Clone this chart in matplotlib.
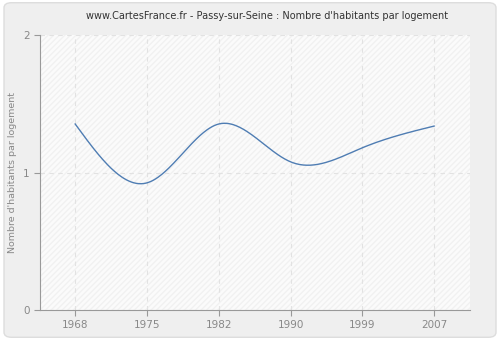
import numpy as np
import matplotlib
matplotlib.use("Agg")
from matplotlib import pyplot as plt
from matplotlib.patches import FancyBboxPatch

years = ["1968", "1975", "1982", "1990", "1999", "2007"]
values = [1.353, 0.925, 1.353, 1.078, 1.18, 1.338]
y_ticks = [0, 1, 2]


def natural_spline(xs, ys, n=300):
    # natural cubic spline through the points
    xs = np.asarray(xs, float)
    ys = np.asarray(ys, float)
    k = len(xs)
    h = np.diff(xs)
    a = np.zeros((k, k))
    b = np.zeros(k)
    a[0, 0] = a[-1, -1] = 1
    for i in range(1, k - 1):
        a[i, i - 1] = h[i - 1]
        a[i, i] = 2 * (h[i - 1] + h[i])
        a[i, i + 1] = h[i]
        b[i] = 6 * ((ys[i + 1] - ys[i]) / h[i] - (ys[i] - ys[i - 1]) / h[i - 1])
    m = np.linalg.solve(a, b)
    xx = np.linspace(xs[0], xs[-1], n)
    idx = np.clip(np.searchsorted(xs, xx) - 1, 0, k - 2)
    x0, x1 = xs[idx], xs[idx + 1]
    hh = x1 - x0
    t0, t1 = x1 - xx, xx - x0
    yy = (m[idx] * t0 ** 3 + m[idx + 1] * t1 ** 3) / (6 * hh) \
        + (ys[idx] / hh - m[idx] * hh / 6) * t0 \
        + (ys[idx + 1] / hh - m[idx + 1] * hh / 6) * t1
    return xx, yy


fig = plt.figure(figsize=(5, 3.4), dpi=100)
fig.patch.set_facecolor("white")
fig.patches.append(FancyBboxPatch((0.008, 0.008), 0.984, 0.984,
                                  boxstyle="round,pad=0,rounding_size=0.015",
                                  transform=fig.transFigure, facecolor="#efefef",
                                  edgecolor="#dddddd", linewidth=1, zorder=-5))

ax = fig.add_axes([0.08, 0.088, 0.86, 0.809])
ax.set_facecolor("#fbfbfb")
ax.add_patch(plt.Rectangle((0, 0), 1, 1, transform=ax.transAxes, facecolor="none",
                           edgecolor="#f1f1f1", hatch="//////", linewidth=0, zorder=0))

x = np.arange(len(years))
xx, yy = natural_spline(x, values)
ax.plot(xx, yy, color="#4f7db3", linewidth=1, zorder=3)

ax.set_xlim(-0.49, 5.5)
ax.set_ylim(0, 2)
ax.set_xticks(x)
ax.set_xticklabels(years)
ax.set_yticks(y_ticks)
ax.grid(True, color="#e2e2e2", linestyle=(0, (4, 4)), linewidth=0.8)
ax.set_axisbelow(True)

for s in ["top", "right"]:
    ax.spines[s].set_visible(False)
for s in ["left", "bottom"]:
    ax.spines[s].set_color("#999999")
ax.tick_params(colors="#999999", labelcolor="#888888", labelsize=7.5, length=4, width=0.8)
ax.set_ylabel("Nombre d'habitants par logement", color="#888888", fontsize=6.8)
fig.text(0.534, 0.952, "www.CartesFrance.fr - Passy-sur-Seine : Nombre d'habitants par logement",
         ha="center", va="center", fontsize=7, color="#333333")

fig.savefig("out.png", dpi=100, facecolor=fig.get_facecolor())
